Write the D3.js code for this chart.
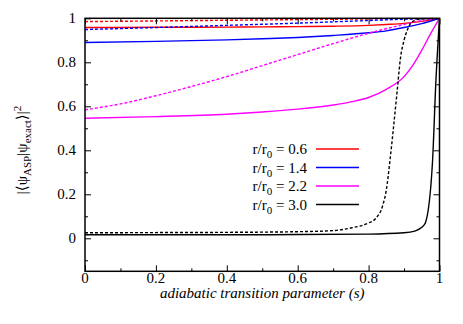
<!DOCTYPE html>
<html>
<head>
<meta charset="utf-8">
<script src="https://cdn.jsdelivr.net/npm/d3@7"></script>
<style>
  body { margin: 0; background: #fff; }
</style>
</head>
<body>
<div id="canvas"></div>
<script>
/* Configuration variables: drawing */
let svgWidth = 463;
let svgHeight = 324;
let plotLeft = 85, plotRight = 439.5, plotTop = 18.3, plotBottom = 271.3;
let serif = "'Liberation Serif', 'Times New Roman', Times, 'DejaVu Serif', serif";

/* Data: s values and overlaps per r/r0 */
let ratios = ["0.6", "1.4", "2.2", "3.0"];
let colors = ["#ff0000", "#0000ff", "#ff00ff", "#000000"];

let sRed = [0, 0.2, 0.4, 0.5, 0.6, 0.7, 0.8, 0.85, 0.9, 0.95, 1];
let redSolid = [0.958, 0.959, 0.96, 0.961, 0.962, 0.964, 0.968, 0.972, 0.977, 0.986, 1];
let sRedDash = [0, 0.2, 0.4, 0.6, 0.8, 0.9, 1];
let redDash = [0.985, 0.988, 0.991, 0.994, 0.997, 0.999, 1];

let sBlue = [0, 0.2, 0.4, 0.5, 0.6, 0.7, 0.8, 0.85, 0.9, 0.95, 1];
let blueSolid = [0.89, 0.895, 0.902, 0.907, 0.913, 0.922, 0.934, 0.943, 0.958, 0.976, 1];
let sBlueDash = [0, 0.2, 0.4, 0.6, 0.8, 0.9, 1];
let blueDash = [0.949, 0.958, 0.968, 0.978, 0.99, 0.996, 1];

let sMag = [0, 0.2, 0.4, 0.5, 0.6, 0.7, 0.75, 0.8, 0.85, 0.9, 0.925, 0.95, 0.975, 1];
let magSolid = [0.546, 0.553, 0.564, 0.574, 0.587, 0.606, 0.62, 0.64, 0.677, 0.735, 0.787, 0.855, 0.93, 1];
let sMagDash = [0, 0.1, 0.2, 0.3, 0.4, 0.5, 0.6, 0.7, 0.8, 0.9, 0.95, 1];
let magDash = [0.584, 0.611, 0.648, 0.69, 0.735, 0.785, 0.835, 0.885, 0.932, 0.972, 0.99, 1];

let sBlack = [0, 0.2, 0.4, 0.6, 0.8, 0.9, 0.93, 0.95, 0.96, 0.98, 0.99, 1];
let blackSolid = [0.016, 0.016, 0.016, 0.017, 0.019, 0.025, 0.033, 0.05, 0.07, 0.34, 0.72, 1];
let sBlackDash = [0, 0.2, 0.4, 0.6, 0.7, 0.75, 0.8, 0.82, 0.84, 0.85, 0.86, 0.87, 0.88, 0.89, 0.9, 0.91, 0.92, 0.94, 1];
let blackDash = [0.025, 0.026, 0.027, 0.03, 0.035, 0.047, 0.07, 0.09, 0.15, 0.22, 0.35, 0.5, 0.66, 0.82, 0.9, 0.95, 0.98, 0.995, 1];

let xMajor = [0, 0.2, 0.4, 0.6, 0.8, 1];
let xMinor = [0.1, 0.3, 0.5, 0.7, 0.9];
let yMajor = [0, 0.2, 0.4, 0.6, 0.8, 1];
let yMinor = [-0.1, 0.1, 0.3, 0.5, 0.7, 0.9];

let series = [
    { s: sRedDash, v: redDash, color: 0, dashed: true },
    { s: sRed, v: redSolid, color: 0, dashed: false },
    { s: sBlueDash, v: blueDash, color: 1, dashed: true },
    { s: sBlue, v: blueSolid, color: 1, dashed: false },
    { s: sMagDash, v: magDash, color: 2, dashed: true },
    { s: sMag, v: magSolid, color: 2, dashed: false },
    { s: sBlackDash, v: blackDash, color: 3, dashed: true },
    { s: sBlack, v: blackSolid, color: 3, dashed: false }
];

/* Create drawing canvas */
let svg = d3.select("#canvas")
    .append("svg")
    .attr("width", svgWidth)
    .attr("height", svgHeight)
    .attr("font-family", serif)
    .style("font-family", serif);

let xScale = d3.scaleLinear()
    .domain([0, 1])
    .range([plotLeft, plotRight]);

let yScale = d3.scaleLinear()
    .domain([-0.15, 1])
    .range([plotBottom, plotTop]);

// curves, clipped to the frame
svg.append("clipPath").attr("id", "clip")
    .append("rect")
    .attr("x", plotLeft).attr("y", plotTop)
    .attr("width", plotRight - plotLeft).attr("height", plotBottom - plotTop);

let line = d3.line()
    .x(d => xScale(d[0]))
    .y(d => yScale(d[1]))
    .curve(d3.curveMonotoneX);

svg.append("g").attr("clip-path", "url(#clip)")
    .selectAll("path")
    .data(series)
    .enter()
    .append("path")
    .attr("d", d => line(d.s.map((s, i) => [s, d.v[i]])))
    .attr("fill", "none")
    .attr("stroke", d => colors[d.color])
    .attr("stroke-width", 1.4)
    .attr("stroke-dasharray", d => d.dashed ? "3,2" : null);

// ticks on all four sides, pointing inwards (gnuplot style)
function addAxis(axis, transform) {
    let g = svg.append("g").attr("transform", transform).call(axis);
    g.select(".domain").remove();
    g.selectAll(".tick line").attr("stroke", "#000").attr("stroke-width", 1);
    g.selectAll("text").remove();
    return g;
}
addAxis(d3.axisBottom(xScale).tickValues(xMajor).tickSize(-6), `translate(0,${plotBottom})`);
addAxis(d3.axisBottom(xScale).tickValues(xMinor).tickSize(-3), `translate(0,${plotBottom})`);
addAxis(d3.axisTop(xScale).tickValues(xMajor).tickSize(-6), `translate(0,${plotTop})`);
addAxis(d3.axisTop(xScale).tickValues(xMinor).tickSize(-3), `translate(0,${plotTop})`);
addAxis(d3.axisLeft(yScale).tickValues(yMajor).tickSize(-6), `translate(${plotLeft},0)`);
addAxis(d3.axisLeft(yScale).tickValues(yMinor).tickSize(-3), `translate(${plotLeft},0)`);
addAxis(d3.axisRight(yScale).tickValues(yMajor).tickSize(-6), `translate(${plotRight},0)`);
addAxis(d3.axisRight(yScale).tickValues(yMinor).tickSize(-3), `translate(${plotRight},0)`);

/* Draw frame */
svg.append("rect")
    .attr("x", plotLeft).attr("y", plotTop)
    .attr("width", plotRight - plotLeft).attr("height", plotBottom - plotTop)
    .attr("fill", "none").attr("stroke", "#000").attr("stroke-width", 1.5);

// tick labels
svg.selectAll(".xlab")
    .data(xMajor)
    .enter()
    .append("text")
    .attr("x", d => xScale(d))
    .attr("y", plotBottom + 12)
    .attr("text-anchor", "middle")
    .attr("font-size", 15)
    .text(d => d3.format("")(d));

svg.selectAll(".ylab")
    .data(yMajor)
    .enter()
    .append("text")
    .attr("x", plotLeft - 9)
    .attr("y", d => yScale(d) + 5)
    .attr("text-anchor", "end")
    .attr("font-size", 15)
    .text(d => d3.format("")(d));

// axis titles
svg.append("text")
    .attr("x", (plotLeft + plotRight) / 2)
    .attr("y", 298)
    .attr("text-anchor", "middle")
    .attr("font-size", 15)
    .attr("font-style", "italic")
    .text("adiabatic transition parameter (s)");

let yTitle = svg.append("text")
    .attr("transform", "translate(27,150) rotate(-90)")
    .attr("text-anchor", "middle")
    .attr("font-size", 15);
yTitle.append("tspan").text("|\u27E8\u03C8");
yTitle.append("tspan").attr("dy", 4).attr("font-size", 11).text("ASP");
yTitle.append("tspan").attr("dy", -4).text("|\u03C8");
yTitle.append("tspan").attr("dy", 4).attr("font-size", 11).text("exact");
yTitle.append("tspan").attr("dy", -4).text("\u27E9|");
yTitle.append("tspan").attr("dy", -6).attr("font-size", 11).text("2");

// legend
let legendY = d3.scaleLinear().domain([0, 3]).range([149, 204.5]);
let legend = svg.selectAll(".legend")
    .data(ratios)
    .enter()
    .append("g");

legend.append("line")
    .attr("x1", 316).attr("x2", 359)
    .attr("y1", (d, i) => legendY(i)).attr("y2", (d, i) => legendY(i))
    .attr("stroke", (d, i) => colors[i])
    .attr("stroke-width", 1.4);

legend.each(function(d, i) {
    let t = d3.select(this).append("text")
        .attr("x", 307)
        .attr("y", legendY(i) + 5)
        .attr("text-anchor", "end")
        .attr("font-size", 15);
    t.append("tspan").text("r/r");
    t.append("tspan").attr("dy", 4).attr("font-size", 11).text("0");
    t.append("tspan").attr("dy", -4).text(" = " + d);
});
</script>
</body>
</html>
